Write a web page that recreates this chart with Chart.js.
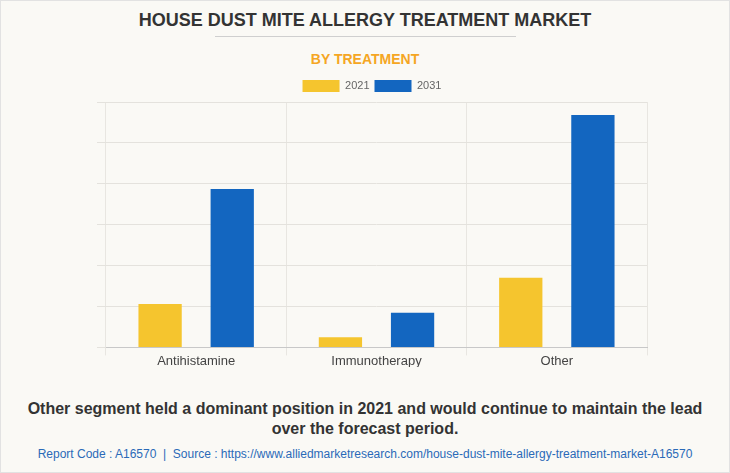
<!DOCTYPE html>
<html>
<head>
<meta charset="utf-8">
<script src="https://cdn.jsdelivr.net/npm/chart.js@4.4.0/dist/chart.umd.min.js"></script>
<style>
  html, body { margin: 0; padding: 0; }
  body { width: 730px; height: 473px; background: #faf9f5; position: relative; overflow: hidden; font-family: "Liberation Sans", Arial, sans-serif; }
  #frame { position: absolute; left: 0; top: 0; width: 728px; height: 471px; border: 1px solid #e2e2e2; }
  #title { position: absolute; top: 10px; left: 0; width: 730px; text-align: center; font-family: "Liberation Sans", Arial, sans-serif; font-weight: bold; font-size: 18px; color: #333; }
  #rule { position: absolute; top: 36px; left: 215px; width: 301px; height: 1px; background: #cfcfcf; }
  #sub { position: absolute; top: 51px; left: 0; width: 730px; text-align: center; font-family: "Liberation Sans", Arial, sans-serif; font-weight: bold; font-size: 14px; color: #f5a623; }
  #wrap { position: absolute; left: 0; top: 70px; width: 730px; height: 305px; }
  #note { position: absolute; top: 399px; left: 0; width: 730px; text-align: center; font-weight: bold; font-size: 16px; line-height: 20px; color: #333; }
  #src { position: absolute; top: 447px; left: 0; width: 730px; text-align: center; font-family: "Liberation Sans", Arial, sans-serif; font-size: 12px; color: #2a6ab8; }
</style>
</head>
<body>
<div id="frame"></div>
<div id="title">HOUSE DUST MITE ALLERGY TREATMENT MARKET</div>
<div id="rule"></div>
<div id="sub">BY TREATMENT</div>
<div id="wrap"><canvas id="c" width="730" height="305"></canvas></div>
<div id="note">Other segment held a dominant position in 2021 and would continue to maintain the lead<br>over the forecast period.</div>
<div id="src">Report Code : A16570&nbsp; |&nbsp; Source : https://www.alliedmarketresearch.com/house-dust-mite-allergy-treatment-market-A16570</div>
<script>
const categories = ["Antihistamine", "Immunotherapy", "Other"];
const seriesNames = ["2021", "2031"];
const values2021 = [1.06, 0.25, 1.70];
const values2031 = [3.87, 0.85, 5.68];
const seriesColors = ["#f5c52e", "#1366c0"];

new Chart(document.getElementById("c"), {
  type: "bar",
  data: {
    labels: categories,
    datasets: [
      { label: seriesNames[0], data: values2021, backgroundColor: seriesColors[0] },
      { label: seriesNames[1], data: values2031, backgroundColor: seriesColors[1] }
    ]
  },
  options: {
    responsive: false,
    animation: false,
    devicePixelRatio: 1,
    layout: { padding: { left: 97, right: 83, top: 5, bottom: 8 } },
    datasets: { bar: { categoryPercentage: 0.8, barPercentage: 0.6 } },
    plugins: {
      legend: {
        position: "top",
        labels: { boxWidth: 37, boxHeight: 12, color: "#666", font: { family: "Liberation Sans", size: 11 }, padding: 5 }
      },
      tooltip: { enabled: false }
    },
    scales: {
      x: {
        grid: { color: "#e8e6e1", tickLength: 8, offset: true },
        border: { color: "#c8c8c8" },
        ticks: { color: "#444", font: { family: "Liberation Sans", size: 13 }, padding: -2 }
      },
      y: {
        min: 0, max: 6,
        ticks: { display: false, stepSize: 1 },
        grid: { color: "#e4e2dd", tickLength: 9, drawTicks: true },
        border: { display: false }
      }
    }
  }
});
</script>
</body>
</html>
